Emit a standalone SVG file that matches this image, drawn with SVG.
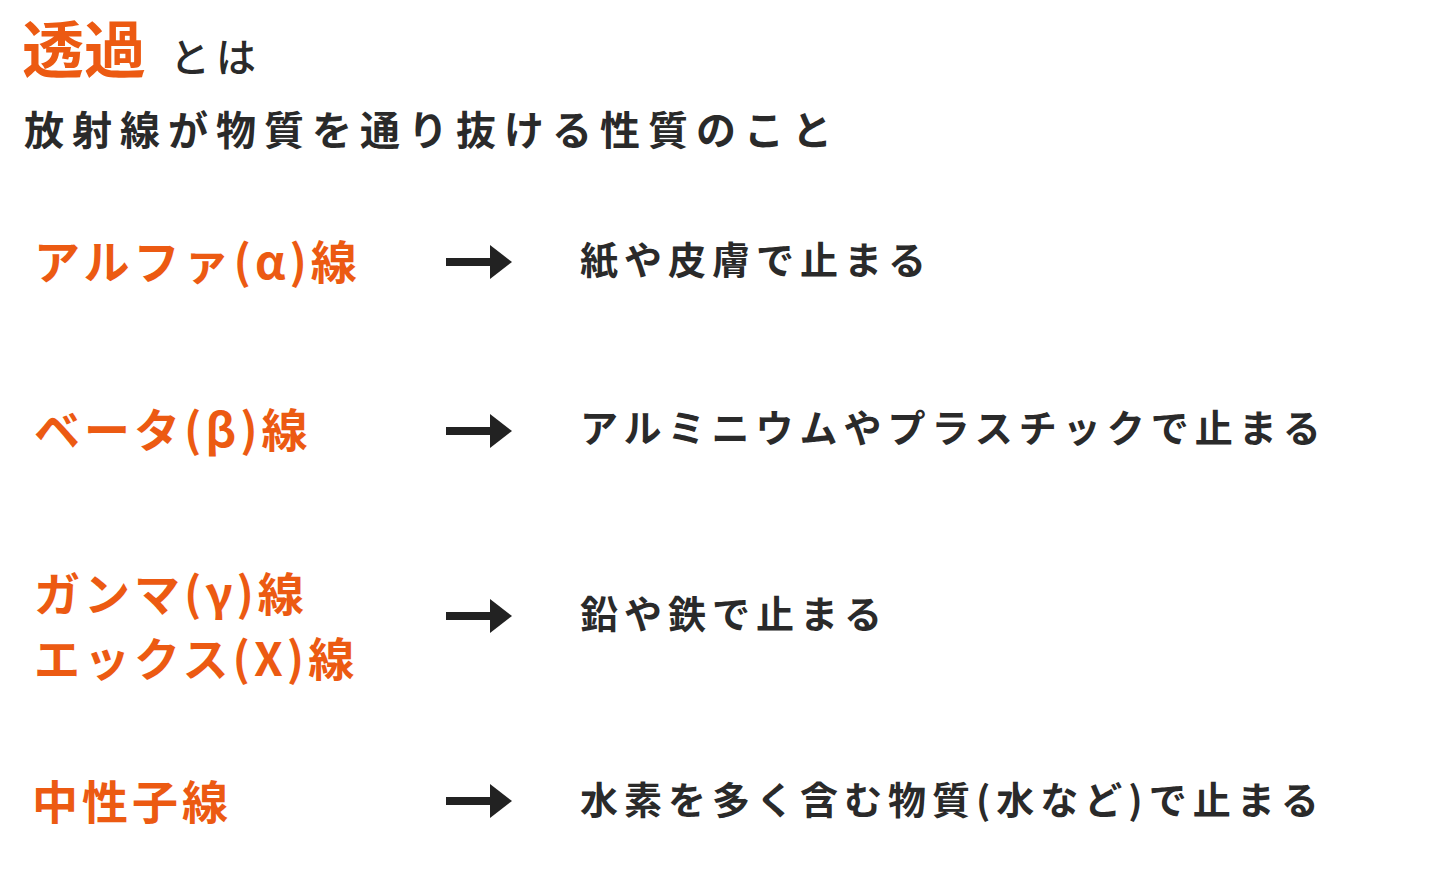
<svg xmlns="http://www.w3.org/2000/svg" width="1430" height="874" viewBox="0 0 1430 874">
<style>
text{font-family:"Noto Sans CJK JP","Noto Sans",sans-serif;font-weight:bold}
.o{fill:#ec5a12;font-size:46px;letter-spacing:4px}
.d{fill:#2a2a2a;font-size:38px;letter-spacing:6px}
.a{fill:#222}
</style>
<defs>
<g id="arr"><rect x="446" y="-4" width="48" height="8"/><polygon points="490,-17 512,0 490,17"/></g>
</defs>
<rect width="1430" height="874" fill="#fff"/>
<g id="title">
<text x="22" y="73" fill="#ec5a12" font-size="62">透過</text>
<text x="170" y="72" fill="#2a2a2a" font-size="40" style="font-weight:500" letter-spacing="6">とは</text>
<text x="24" y="145" fill="#2a2a2a" font-size="40" letter-spacing="8">放射線が物質を通り抜ける性質のこと</text>
</g>
<g id="alpha"><text class="o" x="34" y="279">アルファ(α)線</text></g>
<g id="beta"><text class="o" x="34" y="447">ベータ(β)線</text></g>
<g id="gamma"><text class="o" x="34" y="611">ガンマ(γ)線</text><text class="o" x="34" y="676">エックス(X)線</text></g>
<g id="neutron"><text class="o" x="32" y="819" font-size="50" letter-spacing="2">中性子線</text></g>
<g id="connectors" class="a">
<use href="#arr" y="262"/><use href="#arr" y="431"/><use href="#arr" y="616"/><use href="#arr" y="801"/>
</g>
<g id="r1"><text class="d" x="580" y="274">紙や皮膚で止まる</text></g>
<g id="r2"><text class="d" x="580" y="442">アルミニウムやプラスチックで止まる</text></g>
<g id="r3"><text class="d" x="580" y="628">鉛や鉄で止まる</text></g>
<g id="r4"><text class="d" x="580" y="814">水素を多く含む物質(水など)で止まる</text></g>
</svg>
